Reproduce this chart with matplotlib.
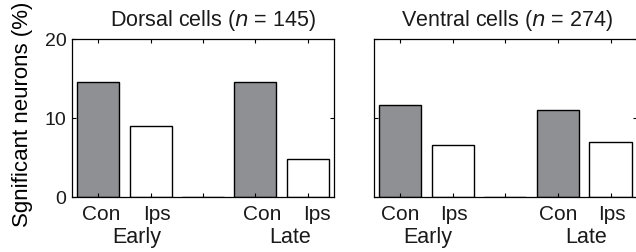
import matplotlib
matplotlib.use("Agg")
import matplotlib.pyplot as plt
import numpy as np

plt.rcParams['font.family'] = ['Liberation Sans', 'DejaVu Sans']
plt.rcParams['text.color'] = '#1a1a1a'

conditions = ["Con", "Ips", "", "Con", "Ips"]
periods = ["Early", "Late"]
dorsal_values = [14.6, 9.0, 0.0, 14.6, 4.85]
ventral_values = [11.7, 6.6, 0.0, 11.0, 7.0]
titles = ["Dorsal cells ($\\it{n}$ = 145)", "Ventral cells ($\\it{n}$ = 274)"]
ylabel = "Sgnificant neurons (%)"
yticks = [0, 10, 20]

W, H = 636, 252
fig = plt.figure(figsize=(W / 100, H / 100), dpi=100)

def px_axes(x0, x1, y0, y1):
    return fig.add_axes([x0 / W, 1 - y1 / H, (x1 - x0) / W, (y1 - y0) / H])

axes = [px_axes(72, 334, 39, 197.3), px_axes(373.8, 636.8, 39, 197.3)]
values = [dorsal_values, ventral_values]
# per-panel horizontal text shift (in bar units)
shifts = [[0.06, 0.12, 0.0, 0.12, 0.18], [0.0, 0.03, 0.0, 0.0, 0.03]]
period_shift = [[0.23, 0.17], [0.03, 0.03]]
title_shift = [0.2, 0.03]
colors = ["#8f9094", "white", "white", "#8f9094", "white"]

pos = np.arange(1, len(conditions) + 1)
for i, ax in enumerate(axes):
    ax.bar(pos, values[i], width=0.8, color=colors, edgecolor="black", linewidth=1.0)
    ax.set_xlim(0.5, 5.5)
    ax.set_ylim(0, 20)
    ax.set_xticks(pos)
    ax.set_xticklabels([])
    ax.set_yticks(yticks)
    ax.tick_params(direction="in", length=3, width=0.8, top=True, right=True,
                   labelsize=14, pad=4, labelcolor='#1a1a1a')
    for s in ax.spines.values():
        s.set_linewidth(0.9)
    if i == 0:
        ax.set_yticklabels([str(t) for t in yticks])
        ax.set_ylabel(ylabel, fontsize=16)
        ax.yaxis.set_label_coords(-0.15, 0.526)
    else:
        ax.set_yticklabels([])
    trans = ax.get_xaxis_transform()
    for p, c, sh in zip(pos, conditions, shifts[i]):
        if c:
            ax.text(p + sh, -0.05, c, transform=trans, ha="center", va="top", fontsize=15)
    for k, per in enumerate(periods):
        ax.text(1.5 + 3 * k + period_shift[i][k], -0.19, per, transform=trans,
                ha="center", va="top", fontsize=15.5)
    ax.text(3 + title_shift[i], 1.04, titles[i], transform=trans, ha="center",
            va="bottom", fontsize=15.5)

fig.savefig("out.png", dpi=100)
